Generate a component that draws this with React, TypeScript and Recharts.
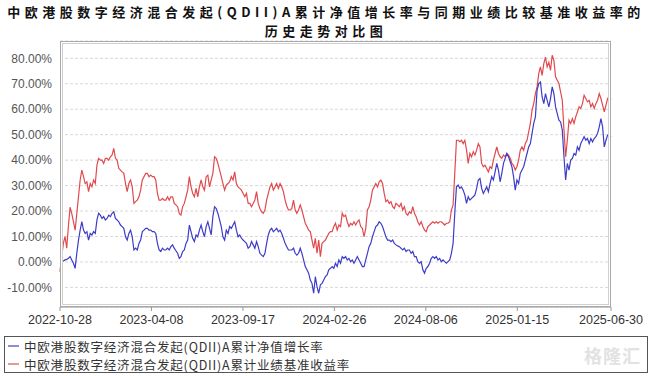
import { CartesianGrid, Line, LineChart, XAxis, YAxis } from "recharts"

const TITLE_1 = "中欧港股数字经济混合发起(QDII)A累计净值增长率与同期业绩比较基准收益率的"
const TITLE_2 = "历史走势对比图"
const NAV_NAME = "中欧港股数字经济混合发起(QDII)A累计净值增长率"
const BENCH_NAME = "中欧港股数字经济混合发起(QDII)A累计业绩基准收益率"

const TICK_LABELS = [
  "2022-10-28",
  "2023-04-08",
  "2023-09-17",
  "2024-02-26",
  "2024-08-06",
  "2025-01-15",
  "2025-06-30",
]

const Y_TICKS = [-10, 0, 10, 20, 30, 40, 50, 60, 70, 80]

// cumulative NAV growth (%), sampled evenly from 2022-10-28 to 2025-06-30
const navGrowth = [
  0, 0, 0.4, 0.8, 1.0, 1.4, 2.1, 0.8, -0.5, -2.5, 3.4, 8.6, 12.5, 15.8, 12.5, 11.2, 11.9, 8.6, 11.2, 10.6,
  11.9, 11.2, 16.5, 19.1, 18.4, 17.1, 17.8, 16.5, 17.1, 18.4, 17.8, 19.1, 19.7, 17.1, 16.5, 15.8, 14.5, 13.9, 13.2, 9.9,
  8.6, 11.2, 12.5, 9.9, 4.7, 5.4, 4.7, 7.3, 8.6, 11.9, 12.5, 13.2, 13.2, 12.5, 12.5, 11.9, 11.9, 11.2, 7.3, 4.7,
  4.1, 5.4, 4.7, 4.7, 5.4, 4.7, 6.0, 6.7,
  5.4, 4.4, 3.4, 1.4, 2.1, 4.1, 4.7, 7.3, 8.6, 14.5, 11.9, 9.3, 8.0, 10.6, 9.9, 12.5, 14.5, 11.9, 9.9, 13.9,
  15.8, 13.2, 10.6, 17.8, 21.7, 21.0, 19.1, 16.5, 13.9, 9.9, 8.6, 12.5, 11.2, 13.9, 13.2, 14.5, 15.8, 12.5, 9.9, 10.6,
  9.3, 8.6, 8.0, 7.3, 5.4, 6.0, 8.0, 6.7, 5.4, 8.0, 6.0, 3.4, 2.7, 2.1, 3.4, 7.3, 10.6, 12.5, 13.2, 11.9,
  12.5, 13.2, 11.9, 12.5, 11.2, 9.3,
  7.3, 6.0, 4.7, 4.7, 4.7, 5.4, 3.4, 2.7, 3.4, 5.4, 3.4, 0.8, -1.8, -3.1, -4.4, -7.1, -8.4, -12.3, -5.8, -9.7,
  -12.3, -9.0, -8.4, -7.1, -5.8, -5.1, -3.1, -2.5, -1.8, -2.5, -0.5, -1.8, 0.8, -0.5, 2.1, 1.4, 2.1, 0.8, 1.4, 0.1,
  0.8, -0.5, 0.8, 2.1, 0.8, -0.5, -1.8, -1.8, 0.8, 3.4, 6.0, 7.3, 9.9, 11.9, 13.9, 14.5, 15.8, 15.2, 13.9, 11.9,
  9.9, 8.6, 8.6, 8.0, 8.6, 7.3,
  6.7, 6.3, 6.0, 5.4, 4.7, 5.4, 4.1, 4.7, 4.7, 3.4, 4.1, 2.1, 2.1, 0.1, -0.5, 0.1, -3.1, -4.4, -2.5, -1.8,
  -0.5, 1.4, 2.1, 1.4, 2.1, 0.8, 1.4, 0.1, 0.8, 0.1, -0.5, 0.1, 0.8, 3.4, 7.3, 19.1, 29.5, 30.2, 28.9, 29.5,
  28.2, 26.3, 23.0, 25.6, 24.3, 25.0, 25.6, 26.3, 28.9, 32.2, 32.8, 28.9, 26.9, 28.2, 29.5, 27.6, 30.8, 33.5, 32.2, 35.4,
  38.7, 36.1, 31.5, 34.8, 38.7, 40.7, 42.6, 41.3, 39.3, 37.4, 33.5, 28.2, 32.2, 30.8, 34.8, 36.1, 37.4, 40.0, 42.6, 45.2,
  46.5, 50.5, 54.4, 57.0, 67.5, 70.1, 70.7, 64.8, 62.2, 66.1, 63.5, 60.9, 64.2, 68.8, 66.1, 60.9, 58.3, 55.7, 55.0, 51.8,
  41.3, 32.2, 38.7, 36.1, 40.0, 40.7, 42.6, 42.0, 45.2, 43.9, 46.5, 47.8, 49.2, 47.8, 48.5, 46.5, 48.5, 47.2, 48.5, 49.2,
  50.5, 53.1, 56.3, 53.1, 45.2, 47.8, 49.8, 49.8, 49.2,
]

// cumulative benchmark return (%), same sample dates
const benchmark = [
  -3.8, 2.0, 7.3, 10.0, 5.4, 14.0, 21.5, 19.0, 15.8, 12.5, 19.0, 25.6, 32.2, 36.1, 33.5, 30.8, 31.5, 27.6, 30.8, 29.5,
  32.2, 30.8, 38.0, 40.7, 40.0, 40.0, 38.7, 40.7, 40.7, 40.0, 41.3, 42.0, 44.6, 40.7, 40.0, 36.7, 36.1, 35.4, 34.8, 30.8,
  27.6, 30.8, 32.2, 29.5, 23.0, 23.7, 24.3, 25.6, 28.2, 32.2, 33.5, 34.8, 34.8, 33.5, 34.1, 33.5, 33.5, 32.2, 26.9, 24.3,
  24.3, 25.0, 24.3, 24.3, 25.6, 24.3, 25.6, 25.6,
  23.0, 22.4, 21.7, 19.1, 18.4, 21.7, 23.0, 25.6, 28.2, 33.5, 29.5, 26.9, 25.6, 28.9, 25.6, 29.5, 32.2, 29.5, 28.2, 33.5,
  34.1, 29.5, 32.2, 34.8, 41.3, 40.7, 38.7, 36.1, 33.5, 30.8, 28.2, 30.2, 30.8, 31.5, 33.5, 32.2, 35.4, 30.8, 29.5, 28.9,
  28.2, 26.9, 25.6, 26.9, 23.0, 23.0, 21.7, 23.0, 24.3, 27.6, 23.0, 21.0, 19.7, 19.1, 20.4, 24.3, 26.9, 29.5, 30.8, 28.2,
  29.5, 30.8, 28.9, 30.8, 29.5, 27.6,
  24.3, 22.0, 20.4, 20.4, 21.0, 24.3, 20.4, 19.1, 20.4, 22.4, 20.4, 17.8, 15.2, 13.9, 12.5, 11.9, 8.6, 5.4, 9.3, 3.4,
  8.6, 2.1, 7.3, 8.0, 8.6, 9.9, 11.2, 11.9, 11.9, 13.9, 15.2, 12.5, 14.5, 13.9, 19.1, 17.8, 18.4, 15.8, 13.9, 15.2,
  14.5, 15.8, 14.5, 15.8, 16.5, 13.9, 13.2, 9.9, 13.2, 20.4, 21.7, 24.3, 28.2, 29.5, 30.8, 29.5, 31.5, 32.2, 30.8, 26.9,
  23.7, 24.3, 23.0, 23.7, 21.7, 21.0,
  23.0, 22.4, 21.7, 23.0, 20.4, 21.7, 19.1, 18.4, 19.7, 19.1, 21.7, 19.1, 17.8, 15.8, 14.5, 15.8, 13.9, 12.5, 11.9, 13.9,
  14.5, 15.2, 15.8, 15.2, 15.8, 15.2, 15.8, 15.8, 15.2, 14.5, 15.2, 15.2, 15.8, 20.4, 22.4, 34.8, 47.8, 47.8, 47.2, 47.8,
  46.5, 47.8, 43.9, 38.7, 42.6, 41.3, 43.3, 42.0, 43.9, 46.5, 45.2, 38.7, 37.4, 38.0, 36.7, 35.4, 37.4, 36.7, 40.0, 42.6,
  45.2, 42.6, 41.3, 40.7, 42.0, 41.3, 42.6, 42.0, 40.7, 38.7, 38.0, 36.1, 37.4, 40.0, 43.9, 45.2, 43.9, 46.5, 47.8, 51.1,
  54.4, 59.6, 62.2, 66.1, 68.8, 74.0, 76.6, 73.3, 77.9, 80.5, 76.6, 78.4, 75.3, 81.2, 79.2, 72.7, 71.4, 70.1, 66.8, 63.5,
  51.8, 41.3, 47.8, 55.7, 54.4, 56.3, 54.4, 57.0, 58.9, 60.9, 60.3, 62.2, 65.5, 64.2, 62.9, 63.5, 60.9, 62.2, 60.3, 62.2,
  63.5, 66.1, 64.2, 61.6, 59.0, 61.6, 64.2, 63.5, 64.2,
]

const data = navGrowth.map((nav, i) => ({ i, nav, bench: benchmark[i] }))
const last = data.length - 1

// place the date ticks on the sample index scale
const dayOf = (s: string) => Date.parse(s + "T00:00:00Z") / 86400000
const totalDays = dayOf(TICK_LABELS[TICK_LABELS.length - 1]) - dayOf(TICK_LABELS[0])
const tickPos = TICK_LABELS.map((s) => ((dayOf(s) - dayOf(TICK_LABELS[0])) / totalDays) * last)

const BLUE = "#3c3cc8"
const RED = "#e04a4e"

const titleLine = {
  position: "absolute" as const,
  left: 0,
  width: 652,
  height: 18,
  textAlign: "center" as const,
  fontFamily: "'Noto Sans CJK SC', sans-serif",
  fontWeight: 700,
  fontSize: 13,
  lineHeight: "18px",
  letterSpacing: 4.5,
  color: "#111",
}

const legendRow = {
  position: "absolute" as const,
  left: 0,
  height: 17,
  display: "flex",
  alignItems: "center",
}

export default function App() {
  return (
    <div style={{ position: "absolute", left: 0, top: 0, width: 652, height: 376, background: "#fff" }}>
      <div style={{ ...titleLine, top: 3 }}>{TITLE_1}</div>
      <div style={{ ...titleLine, top: 22 }}>{TITLE_2}</div>

      <LineChart
        width={652}
        height={376}
        data={data}
        margin={{ top: 41, right: 41, left: 0, bottom: 39 }}
        style={{ position: "absolute", left: 0, top: 0 }}
      >
        <CartesianGrid vertical={false} stroke="#d8d8d8" strokeDasharray="3 2" />
        <XAxis
          type="number"
          dataKey="i"
          domain={[0, last]}
          ticks={tickPos}
          interval={0}
          tickFormatter={(v: number) => TICK_LABELS[tickPos.findIndex((p) => Math.abs(p - v) < 1e-6)] ?? ""}
          height={30}
          tickSize={4}
          tickMargin={4}
          axisLine={{ stroke: "#999" }}
          tickLine={{ stroke: "#999" }}
          tick={{ fill: "#333", fontSize: 12.5, fontFamily: "'Liberation Sans', Arial, sans-serif" }}
        />
        <YAxis
          type="number"
          domain={[-17.7, 86.8]}
          ticks={Y_TICKS}
          interval={0}
          allowDataOverflow
          width={60}
          axisLine={false}
          tickLine={false}
          tickFormatter={(v: number) => v.toFixed(2) + "%"}
          tick={{ fill: "#555", fontSize: 12, fontFamily: "'Liberation Sans', Arial, sans-serif" }}
        />
        <Line
          type="linear"
          dataKey="bench"
          name={BENCH_NAME}
          stroke={RED}
          strokeWidth={1.2}
          dot={false}
          isAnimationActive={false}
        />
        <Line
          type="linear"
          dataKey="nav"
          name={NAV_NAME}
          stroke={BLUE}
          strokeWidth={1.2}
          dot={false}
          isAnimationActive={false}
        />
      </LineChart>

      {/* plot frame */}
      <div
        style={{
          position: "absolute",
          left: 60,
          top: 41,
          width: 549,
          height: 264,
          border: "1px solid #a8a8a8",
          boxShadow: "inset 0 0 0 1px #fff, inset 0 0 0 2px #d0d0d0",
          pointerEvents: "none",
        }}
      />

      {/* legend */}
      <div
        style={{
          position: "absolute",
          left: 4,
          top: 336,
          width: 642,
          height: 35,
          border: "1px solid #555",
          fontFamily: "'Noto Sans CJK SC', sans-serif",
          fontSize: 12.5,
          lineHeight: "17px",
          letterSpacing: 0.8,
          color: "#333",
        }}
      >
        {[
          { name: NAV_NAME, color: "#8c8cd8", top: 0.5 },
          { name: BENCH_NAME, color: "#e49a9c", top: 18.5 },
        ].map((item) => (
          <div key={item.name} style={{ ...legendRow, top: item.top }}>
            <span style={{ display: "inline-block", width: 11, height: 1.5, margin: "0 5px 0 3px", background: item.color }} />
            <span>{item.name}</span>
          </div>
        ))}
        <div
          style={{
            position: "absolute",
            right: 6,
            top: 7,
            fontSize: 18,
            lineHeight: "22px",
            fontWeight: 700,
            color: "#e2e2e2",
            letterSpacing: 1,
          }}
        >
          格隆汇
        </div>
      </div>
    </div>
  )
}
